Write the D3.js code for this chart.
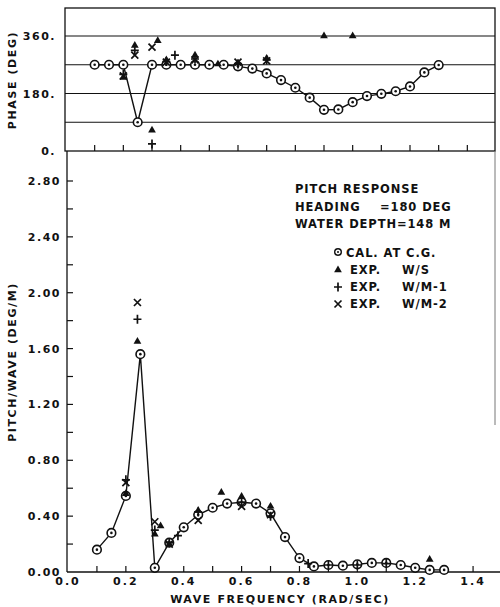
<!DOCTYPE html>
<html>
<head>
<meta charset="utf-8">
<script src="https://cdn.jsdelivr.net/npm/d3@7"></script>
<style>
  body { margin: 0; background: #fff; }
  svg text { font-family: "DejaVu Sans", sans-serif; font-weight: bold; fill: #111; white-space: pre; }
</style>
</head>
<body>
<div id="chart"></div>
<script>
// calculated response at C.G. (line + circles)
const calFreq  = [0.10, 0.15, 0.20, 0.25, 0.30, 0.35, 0.40, 0.45, 0.50, 0.55, 0.60, 0.65, 0.70,
                  0.75, 0.80, 0.85, 0.90, 0.95, 1.00, 1.05, 1.10, 1.15, 1.20, 1.25, 1.30];
const calAmp   = [0.16, 0.28, 0.545, 1.56, 0.03, 0.21, 0.32, 0.41, 0.46, 0.49, 0.50, 0.49, 0.42,
                  0.25, 0.10, 0.04, 0.05, 0.045, 0.055, 0.065, 0.065, 0.05, 0.03, 0.015, 0.015];
const calPhase = [270, 270, 270, 90, 270, 270, 270, 270, 270, 270, 265, 258, 243,
                  222, 198, 167, 129, 130, 153, 172, 179, 187, 202, 246, 269];

// experiment W/S (triangles)
const wsFreq  = [0.20, 0.24, 0.30, 0.32, 0.35, 0.45, 0.53, 0.60, 0.70, 0.90, 1.00, 1.25];
const wsAmp   = [0.56, 1.65, 0.27, 0.33, 0.20, 0.44, 0.57, 0.54, 0.47, null, null, 0.09];
const wsPhase = [230, 330, 65, 345, 285, 300, 272, 275, 290, 360, 360, null];

// experiment W/M-1 (plus)
const m1Freq  = [0.20, 0.24, 0.30, 0.35, 0.38, 0.45, 0.60, 0.70, 0.83, 0.90, 1.00, 1.10];
const m1Amp   = [0.66, 1.81, 0.30, 0.21, 0.26, 0.43, 0.50, 0.40, 0.06, 0.05, 0.05, 0.06];
const m1Phase = [240, 315, 22, 280, 300, 288, 272, 285, null, null, null, null];

// experiment W/M-2 (cross)
const m2Freq  = [0.20, 0.24, 0.30, 0.35, 0.45, 0.60, 0.70];
const m2Amp   = [0.64, 1.93, 0.36, 0.20, 0.37, 0.47, 0.41];
const m2Phase = [235, 300, 325, 278, 285, 278, 282];

const xTicks = [0.0, 0.2, 0.4, 0.6, 0.8, 1.0, 1.2, 1.4];
const ampTicks = [0.0, 0.4, 0.8, 1.2, 1.6, 2.0, 2.4, 2.8];
const phaseTicks = [0, 180, 360];
const phaseGrid = [90, 180, 270, 360];

const W = 500, H = 607;
const svg = d3.select("#chart").append("svg")
    .attr("width", W).attr("height", H);

// scales (scan is a little skewed, so top and bottom get their own x)
const xTop = d3.scaleLinear().domain([0, 1.5]).range([66, 496]);
const xBot = d3.scaleLinear().domain([0, 1.5]).range([68, 502]);
const yPh = d3.scaleLinear().domain([0, 360]).range([151, 36]);
const yAmp = d3.scaleLinear().domain([0, 2.8]).range([572, 181]);

const ink = "#111";

// ---------- top panel : phase ----------
const topG = svg.append("g");
topG.append("rect")
    .attr("x", 65).attr("y", 8).attr("width", 430).attr("height", 143)
    .attr("fill", "none").attr("stroke", ink).attr("stroke-width", 1.3);

topG.selectAll(".grid").data(phaseGrid).join("line")
    .attr("x1", 65).attr("x2", 495)
    .attr("y1", d => yPh(d)).attr("y2", d => yPh(d))
    .attr("stroke", ink).attr("stroke-width", 1.2);

// upward ticks on bottom line
topG.selectAll(".tk").data(d3.range(1, 15)).join("line")
    .attr("x1", d => xTop(d / 10)).attr("x2", d => xTop(d / 10))
    .attr("y1", 151).attr("y2", 145)
    .attr("stroke", ink).attr("stroke-width", 1.2);

topG.selectAll(".yl").data(phaseTicks).join("text")
    .attr("x", 56).attr("y", d => yPh(d) + 4)
    .attr("text-anchor", "end")
    .style("font-size", "11px").style("letter-spacing", "1.5px")
    .text(d => d + ".");

topG.append("text")
    .attr("transform", "translate(16,80) rotate(-90)")
    .attr("text-anchor", "middle")
    .style("font-size", "11px").style("letter-spacing", "1.6px")
    .text("PHASE (DEG)");

// ---------- bottom panel : amplitude ----------
const botG = svg.append("g");
botG.append("line")
    .attr("x1", 67).attr("x2", 67).attr("y1", 151).attr("y2", 572)
    .attr("stroke", ink).attr("stroke-width", 1.3);
botG.append("line")
    .attr("x1", 67).attr("x2", 500).attr("y1", 572).attr("y2", 572)
    .attr("stroke", ink).attr("stroke-width", 1.4);
// faint right border remnant
botG.append("line")
    .attr("x1", 495).attr("x2", 495).attr("y1", 151).attr("y2", 425)
    .attr("stroke", "#777").attr("stroke-width", 1);

botG.selectAll(".xt").data(d3.range(1, 15)).join("line")
    .attr("x1", d => xBot(d / 10)).attr("x2", d => xBot(d / 10))
    .attr("y1", 572).attr("y2", 566)
    .attr("stroke", ink).attr("stroke-width", 1.2);

botG.selectAll(".yt").data(d3.range(1, 15)).join("line")
    .attr("x1", 67).attr("x2", 73)
    .attr("y1", d => yAmp(d / 5)).attr("y2", d => yAmp(d / 5))
    .attr("stroke", ink).attr("stroke-width", 1.2);

botG.selectAll(".xl").data(xTicks).join("text")
    .attr("x", d => xBot(d)).attr("y", 585)
    .attr("text-anchor", "middle")
    .style("font-size", "11px").style("letter-spacing", "2px")
    .text(d => d3.format(".1f")(d));

botG.selectAll(".yl").data(ampTicks).join("text")
    .attr("x", 61).attr("y", d => yAmp(d) + 4)
    .attr("text-anchor", "end")
    .style("font-size", "11px").style("letter-spacing", "1.5px")
    .text(d => d3.format(".2f")(d));

botG.append("text")
    .attr("x", 280).attr("y", 603)
    .attr("text-anchor", "middle")
    .style("font-size", "11px").style("letter-spacing", "1.6px")
    .text("WAVE FREQUENCY (RAD/SEC)");

botG.append("text")
    .attr("transform", "translate(16,362) rotate(-90)")
    .attr("text-anchor", "middle")
    .style("font-size", "11px").style("letter-spacing", "1.6px")
    .text("PITCH/WAVE (DEG/M)");

// ---------- markers ----------
function tri(g, pts) {
    g.selectAll(null).data(pts).join("path")
        .attr("transform", d => `translate(${d[0]},${d[1]})`)
        .attr("d", d3.symbol(d3.symbolTriangle, 26))
        .attr("fill", ink);
}
function plus(g, pts) {
    g.selectAll(null).data(pts).join("path")
        .attr("transform", d => `translate(${d[0]},${d[1]})`)
        .attr("d", "M-4,0H4M0,-4.5V4.5")
        .attr("stroke", ink).attr("stroke-width", 1.7);
}
function cross(g, pts) {
    g.selectAll(null).data(pts).join("path")
        .attr("transform", d => `translate(${d[0]},${d[1]})`)
        .attr("d", "M-3.5,-3.5L3.5,3.5M-3.5,3.5L3.5,-3.5")
        .attr("stroke", ink).attr("stroke-width", 1.7);
}
function circ(g, pts) {
    const c = g.selectAll(null).data(pts).join("g")
        .attr("transform", d => `translate(${d[0]},${d[1]})`);
    c.append("circle").attr("r", 4.3)
        .attr("fill", "#fff").attr("stroke", ink).attr("stroke-width", 1.6);
    c.append("circle").attr("r", 1.3).attr("fill", ink);
}

function pts(freq, vals, xs, ys) {
    return freq.map((f, i) => [f, vals[i]])
        .filter(d => d[1] != null)
        .map(d => [xs(d[0]), ys(d[1])]);
}

const line = d3.line();

// phase panel
topG.append("path")
    .attr("d", line(pts(calFreq, calPhase, xTop, yPh)))
    .attr("fill", "none").attr("stroke", ink).attr("stroke-width", 1.4);
circ(topG, pts(calFreq, calPhase, xTop, yPh));
tri(topG, pts(wsFreq, wsPhase, xTop, yPh));
plus(topG, pts(m1Freq, m1Phase, xTop, yPh));
cross(topG, pts(m2Freq, m2Phase, xTop, yPh));

// amplitude panel
botG.append("path")
    .attr("d", line(pts(calFreq, calAmp, xBot, yAmp)))
    .attr("fill", "none").attr("stroke", ink).attr("stroke-width", 1.4);
circ(botG, pts(calFreq, calAmp, xBot, yAmp));
tri(botG, pts(wsFreq, wsAmp, xBot, yAmp));
plus(botG, pts(m1Freq, m1Amp, xBot, yAmp));
cross(botG, pts(m2Freq, m2Amp, xBot, yAmp));

// ---------- annotation + legend ----------
const ann = svg.append("g").style("font-size", "11.5px").style("letter-spacing", "0.9px");
ann.append("text").attr("x", 295).attr("y", 193).text("PITCH RESPONSE");
ann.append("text").attr("x", 295).attr("y", 211).text("HEADING");
ann.append("text").attr("x", 380).attr("y", 211).text("=180 DEG");
ann.append("text").attr("x", 295).attr("y", 228).text("WATER DEPTH=148 M");

const legendRows = [
    { kind: "cal", y: 257, parts: [[346, "CAL. AT C.G."]] },
    { kind: "ws",  y: 274, parts: [[350, "EXP."], [402, "W/S"]] },
    { kind: "m1",  y: 291, parts: [[350, "EXP."], [402, "W/M-1"]] },
    { kind: "m2",  y: 308, parts: [[350, "EXP."], [402, "W/M-2"]] }
];
legendRows.forEach(r => {
    r.parts.forEach(p => ann.append("text").attr("x", p[0]).attr("y", r.y).text(p[1]));
    if (r.kind === "cal") {
        const c = ann.append("g").attr("transform", `translate(338,${r.y - 5})`);
        c.append("circle").attr("r", 3.3).attr("fill", "#fff").attr("stroke", ink).attr("stroke-width", 1.4);
        c.append("circle").attr("r", 1).attr("fill", ink);
    }
    if (r.kind === "ws") tri(ann, [[338, r.y - 4]]);
    if (r.kind === "m1") plus(ann, [[338, r.y - 4]]);
    if (r.kind === "m2") cross(ann, [[338, r.y - 4]]);
});
</script>
</body>
</html>
